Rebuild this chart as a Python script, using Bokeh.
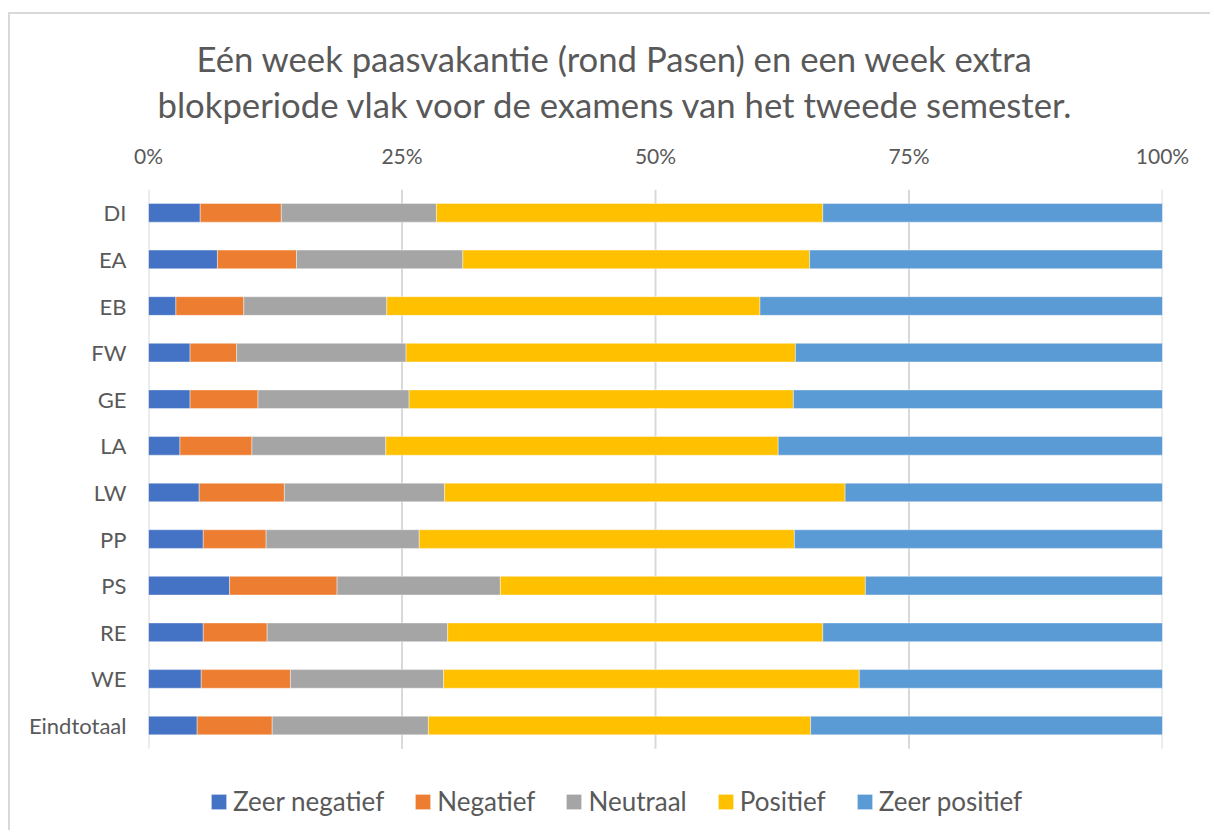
from bokeh.plotting import figure
from bokeh.models import (Range1d, FixedTicker, PrintfTickFormatter,
                          Legend, LegendItem, Title)
from bokeh.embed import file_html
from bokeh.resources import INLINE

categories = ["DI", "EA", "EB", "FW", "GE", "LA", "LW", "PP", "PS", "RE", "WE", "Eindtotaal"]
series_names = ["Zeer negatief", "Negatief", "Neutraal", "Positief", "Zeer positief"]
zeer_negatief = [5.1, 6.8, 2.7, 4.1, 4.1, 3.1, 5.0, 5.4, 8.0, 5.4, 5.2, 4.8]
negatief = [8.0, 7.8, 6.7, 4.6, 6.7, 7.1, 8.4, 6.2, 10.6, 6.3, 8.8, 7.4]
neutraal = [15.3, 16.4, 14.1, 16.7, 14.9, 13.2, 15.8, 15.1, 16.1, 17.8, 15.1, 15.4]
positief = [38.1, 34.2, 36.8, 38.4, 37.9, 38.7, 39.5, 37.0, 36.0, 37.0, 41.0, 37.7]
zeer_positief = [33.5, 34.8, 39.7, 36.2, 36.4, 37.9, 31.3, 36.3, 29.3, 33.5, 29.9, 34.7]
colors = ["#4472C4", "#ED7D31", "#A5A5A5", "#FFC000", "#5B9BD5"]
x_ticks = [0, 25, 50, 75, 100]
title_line1 = "Eén week paasvakantie (rond Pasen) en een week extra"
title_line2 = "blokperiode vlak voor de examens van het tweede semester."

FONT = "Lato"
TXT = "#595959"
GRID = "#d9d9d9"

n = len(categories)
ypos = [n - 1 - i for i in range(n)]          # first category on top
data = {"y": ypos, "cat": categories}
for name, vals in zip(series_names, [zeer_negatief, negatief, neutraal, positief, zeer_positief]):
    data[name] = vals

W, H = 1202, 818
TOP = 175
p = figure(width=W, height=H, output_backend="svg", toolbar_location=None,
           x_range=Range1d(0, 100), y_range=Range1d(-0.5 - 1.795, n - 0.5),
           x_axis_location="above",
           min_border_left=138, min_border_right=W - 138 - 1014,
           min_border_top=TOP, min_border_bottom=0)
p.styles = {"border-left": "2px solid #d9d9d9", "border-top": "2px solid #d9d9d9",
            "margin-top": "12px", "margin-left": "8px"}

# vertical grid lines, limited to the band of categories
p.segment(x0=x_ticks, x1=x_ticks, y0=[-0.5] * len(x_ticks), y1=[n - 0.5] * len(x_ticks),
          line_color=GRID, line_width=2)

renderers = p.hbar_stack(series_names, y="y", height=0.4, color=colors,
                         line_color="white", line_width=0.8, line_alpha=0.5,
                         source=data)

p.outline_line_color = None
p.background_fill_color = "white"
p.border_fill_color = "white"
p.xgrid.grid_line_color = None
p.ygrid.grid_line_color = None

# x axis
p.xaxis.ticker = FixedTicker(ticks=x_ticks)
p.xaxis.formatter = PrintfTickFormatter(format="%d%%")
p.xaxis.axis_line_color = None
p.xaxis.major_tick_line_color = None
p.xaxis.minor_tick_line_color = None
p.xaxis.major_tick_out = 0
p.xaxis.major_tick_in = 0
p.xaxis.major_label_standoff = 22
p.xaxis.major_label_text_font = FONT
p.xaxis.major_label_text_font_size = "21px"
p.xaxis.major_label_text_color = TXT

# y axis with category labels
p.yaxis.ticker = FixedTicker(ticks=ypos)
p.yaxis.major_label_overrides = {y: c for y, c in zip(ypos, categories)}
p.yaxis.axis_line_color = None
p.yaxis.major_tick_line_color = None
p.yaxis.minor_tick_line_color = None
p.yaxis.major_tick_out = 0
p.yaxis.major_tick_in = 0
p.yaxis.major_label_standoff = 22
p.yaxis.major_label_text_font = FONT
p.yaxis.major_label_text_font_size = "22px"
p.yaxis.major_label_text_color = TXT

# titles (two lines)
t2 = Title(text=title_line2, align="left", offset=9, text_font=FONT, text_font_size="34.7px",
           text_font_style="normal", text_color=TXT, standoff=29)
t1 = Title(text=title_line1, align="left", offset=48, text_font=FONT, text_font_size="34.7px",
           text_font_style="normal", text_color=TXT, standoff=-22)
p.add_layout(t2, "above")
p.add_layout(t1, "above")

legend = Legend(items=[LegendItem(label=nm, renderers=[r]) for nm, r in zip(series_names, renderers)],
                orientation="horizontal", location=(61, 15),
                glyph_width=19, glyph_height=19, label_standoff=5, spacing=29,
                label_text_font=FONT, label_text_font_size="26px", label_text_color=TXT,
                border_line_color=None, background_fill_alpha=0, padding=0, margin=0)
p.add_layout(legend, "center")

open("out.html", "w").write(file_html(p, INLINE))
